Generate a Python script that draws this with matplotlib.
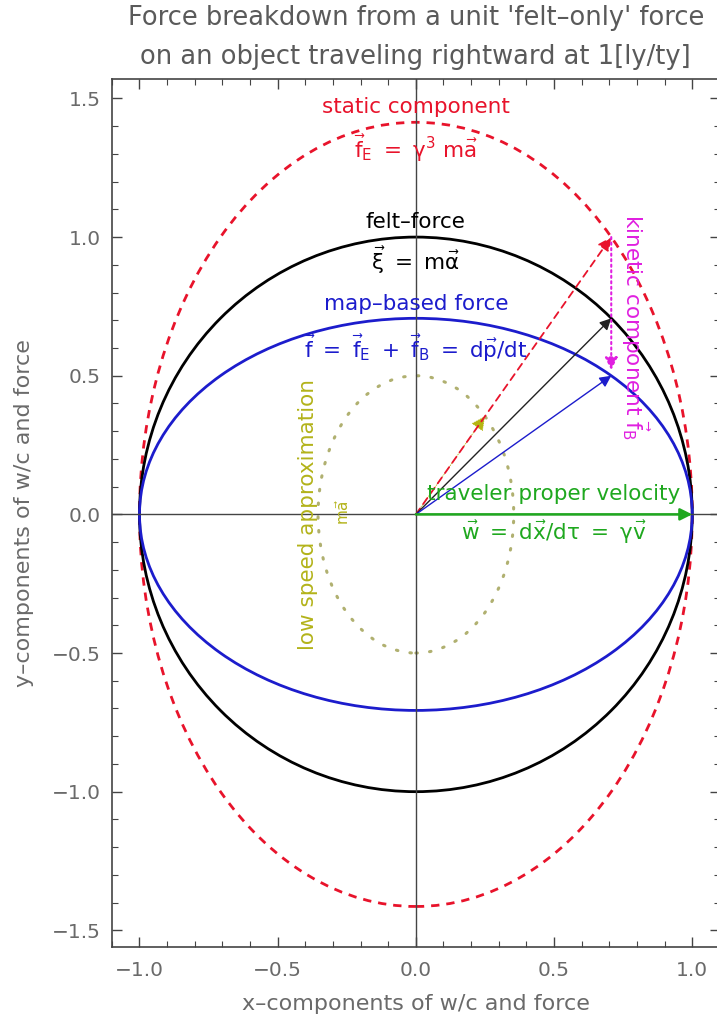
import matplotlib.pyplot as plt
import numpy as np
from matplotlib.patches import Ellipse
from matplotlib.ticker import MultipleLocator

plt.rcParams['font.family'] = ['DejaVu Sans']
plt.rcParams['mathtext.default'] = 'regular'

# ---------------- dados ----------------
# semi-eixos (x, y) das curvas
ELIPSE_FELT = (1.0, 1.0)        # felt-force, circulo unitario
ELIPSE_MAP = (1.0, 0.707)       # map-based force
ELIPSE_STATIC = (1.0, 1.414)    # static component
ELIPSE_LOW = (0.354, 0.5)       # low speed approximation

# vetores (inicio -> fim)
SETA_FELT = ((0.0, 0.0), (0.707, 0.707))
SETA_MAP = ((0.0, 0.0), (0.707, 0.5))
SETA_STATIC = ((0.0, 0.0), (0.707, 1.0))
SETA_KINETIC = ((0.707, 1.0), (0.707, 0.52))
SETA_LOW = ((0.0, 0.0), (0.25, 0.354))
SETA_VEL = ((0.0, 0.0), (1.0, 0.0))

X_TICKS = [-1.0, -0.5, 0.0, 0.5, 1.0]
Y_TICKS = [-1.5, -1.0, -0.5, 0.0, 0.5, 1.0, 1.5]
X_LIM = (-1.1, 1.1)
Y_LIM = (-1.56, 1.57)

VERMELHO = '#e8132b'
AZUL = '#1c1ccc'
VERDE = '#1fa81f'
MAGENTA = '#e01fe0'
OLIVA = '#b3b31a'
CINZA = '#5a5a5a'

# ---------------- figura ----------------
fig = plt.figure(figsize=(7.17, 10.33), dpi=100)
ax = fig.add_axes([0.156, 0.0833, 0.848, 0.8402])

def elipse(semi, cor, **kw):
    e = Ellipse((0, 0), 2 * semi[0], 2 * semi[1], fill=False, edgecolor=cor, **kw)
    ax.add_patch(e)

elipse(ELIPSE_LOW, '#b0b070', lw=2.2, linestyle=(0, (0.5, 4)), capstyle='round')
elipse(ELIPSE_STATIC, VERMELHO, lw=2.0, linestyle=(0, (3, 2.5)))
elipse(ELIPSE_FELT, 'black', lw=2.0)
elipse(ELIPSE_MAP, AZUL, lw=2.0)

ax.axhline(0, color='#444444', lw=1.0, zorder=1)
ax.axvline(0, color='#444444', lw=1.0, zorder=1)

def seta(s, cor, ls='-', lw=1.0, head=10):
    ax.annotate('', xy=s[1], xytext=s[0],
                arrowprops=dict(arrowstyle='-|>', color=cor, lw=lw, linestyle=ls,
                                mutation_scale=head, shrinkA=0, shrinkB=0))

seta(SETA_LOW, '#b5b512', ls=':', lw=0.6, head=22)
seta(SETA_STATIC, VERMELHO, ls=(0, (4, 3)), lw=1.3, head=20)
seta(SETA_FELT, '#222222', lw=1.0, head=17)
seta(SETA_MAP, AZUL, lw=1.0, head=17)
seta(SETA_KINETIC, MAGENTA, ls=':', lw=1.5, head=19)
seta(SETA_VEL, VERDE, lw=1.8, head=18)

# textos
fs = 15.5
ax.text(0, 1.47, 'static component', color=VERMELHO, fontsize=fs, ha='center', va='center')
ax.text(0, 1.32, r'$\vec{f}_E\ =\ \gamma^3\ m\vec{a}$', color=VERMELHO, fontsize=fs, ha='center', va='center')
ax.text(0, 1.055, 'felt\u2013force', color='black', fontsize=fs, ha='center', va='center')
ax.text(0, 0.915, r'$\vec{\xi}\ =\ m\vec{\alpha}$', color='black', fontsize=fs, ha='center', va='center')
ax.text(0, 0.76, 'map\u2013based force', color=AZUL, fontsize=fs, ha='center', va='center')
ax.text(0, 0.60, r'$\vec{f}\ =\ \vec{f}_E\ +\ \vec{f}_B\ =\ d\vec{p}/dt$', color=AZUL, fontsize=fs,
        ha='center', va='center')
ax.text(0.5, 0.072, 'traveler proper velocity', color=VERDE, fontsize=fs, ha='center', va='center')
ax.text(0.5, -0.065, r'$\vec{w}\ =\ d\vec{x}/d\tau\ =\ \gamma\vec{v}$', color=VERDE, fontsize=fs,
        ha='center', va='center')
ax.text(-0.39, 0.0, 'low speed approximation', color=OLIVA, fontsize=fs, rotation=90,
        ha='center', va='center')
ax.text(-0.265, 0.01, r'$m\vec{a}$', color=OLIVA, fontsize=11, rotation=90, ha='center', va='center')
ax.text(0.79, 0.675, r'kinetic component $\vec{f}_B$', color=MAGENTA, fontsize=fs, rotation=-90,
        ha='center', va='center')

# eixos
ax.set_xlim(*X_LIM)
ax.set_ylim(*Y_LIM)
ax.set_xticks(X_TICKS)
ax.set_yticks(Y_TICKS)
ax.xaxis.set_minor_locator(MultipleLocator(0.1))
ax.yaxis.set_minor_locator(MultipleLocator(0.1))
ax.tick_params(which='both', direction='in', top=True, right=True, color='#444444',
               labelcolor='#6a6a6a', labelsize=14.5)
ax.tick_params(axis='x', pad=10)
ax.tick_params(axis='y', pad=8)
ax.tick_params(which='major', length=7, width=1.0)
ax.tick_params(which='minor', length=4, width=0.8)
for sp in ax.spines.values():
    sp.set_color('#444444')
    sp.set_linewidth(1.2)

ax.set_xlabel('x\u2013components of w/c and force', fontsize=16, color='#6a6a6a', labelpad=10)
ax.set_ylabel('y\u2013components of w/c and force', fontsize=16, color='#6a6a6a', labelpad=13)
ax.set_title("Force breakdown from a unit 'felt\u2013only' force\non an object traveling rightward at 1[ly/ty]",
             fontsize=18.5, color=CINZA, linespacing=1.65, pad=11)

fig.savefig('out.png', dpi=100)
